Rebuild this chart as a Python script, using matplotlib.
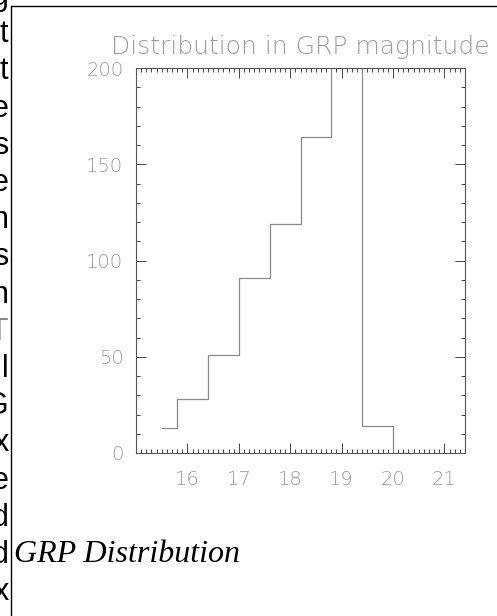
import matplotlib
matplotlib.use("Agg")
import matplotlib.pyplot as plt
from matplotlib.lines import Line2D
from matplotlib.ticker import MultipleLocator, FixedLocator

# ---- data ----
bin_centers = [15.5, 16.1, 16.7, 17.3, 17.9, 18.5, 19.1, 19.7, 20.3]
counts = [13, 28, 51, 91, 119, 164, 240, 14, 0]
x_ticks = [16, 17, 18, 19, 20, 21]
y_ticks = [0, 50, 100, 150, 200]
title = "Distribution in GRP magnitude"
caption = "GRP Distribution"
side_letters = ['g', 't', 't', 'e', 's', 'e', 'n', 's', 'n', 'T', 'l', 'G', 'x', 'e', 'd', 'd', 'x']

W, H = 497, 616
fig = plt.figure(figsize=(W / 100, H / 100), dpi=100)
fig.patch.set_facecolor('white')

def fx(px):
    return px / W

def fy(py):
    return 1 - py / H

# axes frame: x 136-465 px, y 68-453 px
ax = fig.add_axes([fx(136), fy(453), fx(465) - fx(136), fy(68) - fy(453)])
ax.step(bin_centers, counts, where='mid', color='#8a8a8a', lw=0.9)
ax.set_xlim(15.0, 21.4)
ax.set_ylim(0, 200)

tick_font = dict(family=['DejaVu Sans'], weight=200)
ax.xaxis.set_major_locator(FixedLocator(x_ticks))
ax.xaxis.set_minor_locator(MultipleLocator(0.1))
ax.yaxis.set_major_locator(FixedLocator(y_ticks))
ax.yaxis.set_minor_locator(MultipleLocator(10))
ax.set_xticklabels([str(t) for t in x_ticks], fontsize=14, color='#9c9c9c', **tick_font)
ax.set_yticklabels([str(t) for t in y_ticks], fontsize=14, color='#9c9c9c', **tick_font)
ax.tick_params(which='both', direction='in', top=True, right=True, color='#444444', width=0.7)
ax.tick_params(which='major', length=7)
ax.tick_params(which='minor', length=3)
ax.tick_params(axis='x', which='major', pad=12)
ax.tick_params(axis='y', which='major', pad=9)
for s in ax.spines.values():
    s.set_color('#555555')
    s.set_linewidth(0.8)

ax.set_title(title, fontsize=18, color='#9c9c9c', pad=10, **tick_font)

# document box border
fig.add_artist(Line2D([fx(10.5), fx(10.5)], [fy(6), 0], transform=fig.transFigure, color='black', lw=1.0))
fig.add_artist(Line2D([fx(10.5), 1], [fy(6), fy(6)], transform=fig.transFigure, color='black', lw=1.0))

# clipped text fragments at the left edge
for i, ch in enumerate(side_letters):
    fig.text(fx(8.5), fy(5 + 37.2 * i), ch, ha='right', va='baseline', fontsize=22,
             family='Liberation Sans', color='#888888' if ch == 'T' else 'black')

# caption
fig.text(fx(14), fy(562), caption, ha='left', va='baseline', fontsize=23,
         family='Liberation Serif', style='italic', color='black')

fig.savefig('out.png', dpi=100, facecolor='white')
